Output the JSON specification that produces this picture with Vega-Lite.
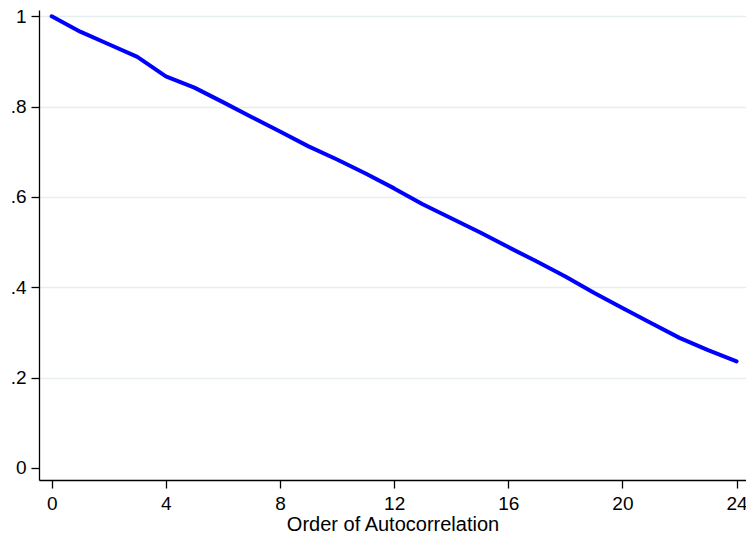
{
  "$schema": "https://vega.github.io/schema/vega-lite/v6.json",
  "width": 707,
  "height": 470,
  "autosize": {"type": "none"},
  "padding": {"left": 39, "top": 10, "right": 0, "bottom": 54},
  "background": "white",
  "config": {
    "view": {"stroke": null},
    "font": "Liberation Sans",
    "axis": {
      "domainColor": "black",
      "domainWidth": 1.3,
      "tickColor": "black",
      "tickWidth": 1.3,
      "tickSize": 8,
      "labelColor": "black",
      "titleColor": "black",
      "labelFont": "Liberation Sans",
      "titleFont": "Liberation Sans",
      "labelFontWeight": "normal",
      "titleFontWeight": "normal"
    }
  },
  "data": {
    "values": [
      {"lag": 0, "ac": 1.0},
      {"lag": 1, "ac": 0.966},
      {"lag": 2, "ac": 0.938},
      {"lag": 3, "ac": 0.910},
      {"lag": 4, "ac": 0.867},
      {"lag": 5, "ac": 0.842},
      {"lag": 6, "ac": 0.810},
      {"lag": 7, "ac": 0.777},
      {"lag": 8, "ac": 0.745},
      {"lag": 9, "ac": 0.712},
      {"lag": 10, "ac": 0.683},
      {"lag": 11, "ac": 0.652},
      {"lag": 12, "ac": 0.619},
      {"lag": 13, "ac": 0.584},
      {"lag": 14, "ac": 0.553},
      {"lag": 15, "ac": 0.522},
      {"lag": 16, "ac": 0.489},
      {"lag": 17, "ac": 0.457},
      {"lag": 18, "ac": 0.424},
      {"lag": 19, "ac": 0.388},
      {"lag": 20, "ac": 0.354},
      {"lag": 21, "ac": 0.321},
      {"lag": 22, "ac": 0.288},
      {"lag": 23, "ac": 0.261},
      {"lag": 24, "ac": 0.236}
    ]
  },
  "mark": {
    "type": "line",
    "color": "#0000ff",
    "strokeWidth": 4,
    "strokeCap": "round",
    "strokeJoin": "round"
  },
  "encoding": {
    "x": {
      "field": "lag",
      "type": "quantitative",
      "scale": {"domain": [-0.445, 24.33], "nice": false, "zero": false},
      "axis": {
        "values": [0, 4, 8, 12, 16, 20, 24],
        "title": "Order of Autocorrelation",
        "titleFontSize": 20,
        "labelFontSize": 19,
        "labelPadding": 6,
        "titlePadding": 1,
        "grid": false,
        "labelFlush": false
      }
    },
    "y": {
      "field": "ac",
      "type": "quantitative",
      "scale": {"domain": [-0.0266, 1.0139], "nice": false, "zero": false},
      "axis": {
        "values": [0, 0.2, 0.4, 0.6, 0.8, 1],
        "title": null,
        "labelFontSize": 19,
        "labelPadding": 5,
        "labelAngle": 0,
        "labelFlush": false,
        "labelExpr": "datum.value == 0 ? '0' : datum.value == 1 ? '1' : replace(format(datum.value, '.1f'), '0.', '.')",
        "grid": true,
        "gridColor": "#e6eef0",
        "gridWidth": 1.5,
        "gridOpacity": {"condition": {"test": "datum.value == 0", "value": 0}, "value": 1}
      }
    }
  }
}
